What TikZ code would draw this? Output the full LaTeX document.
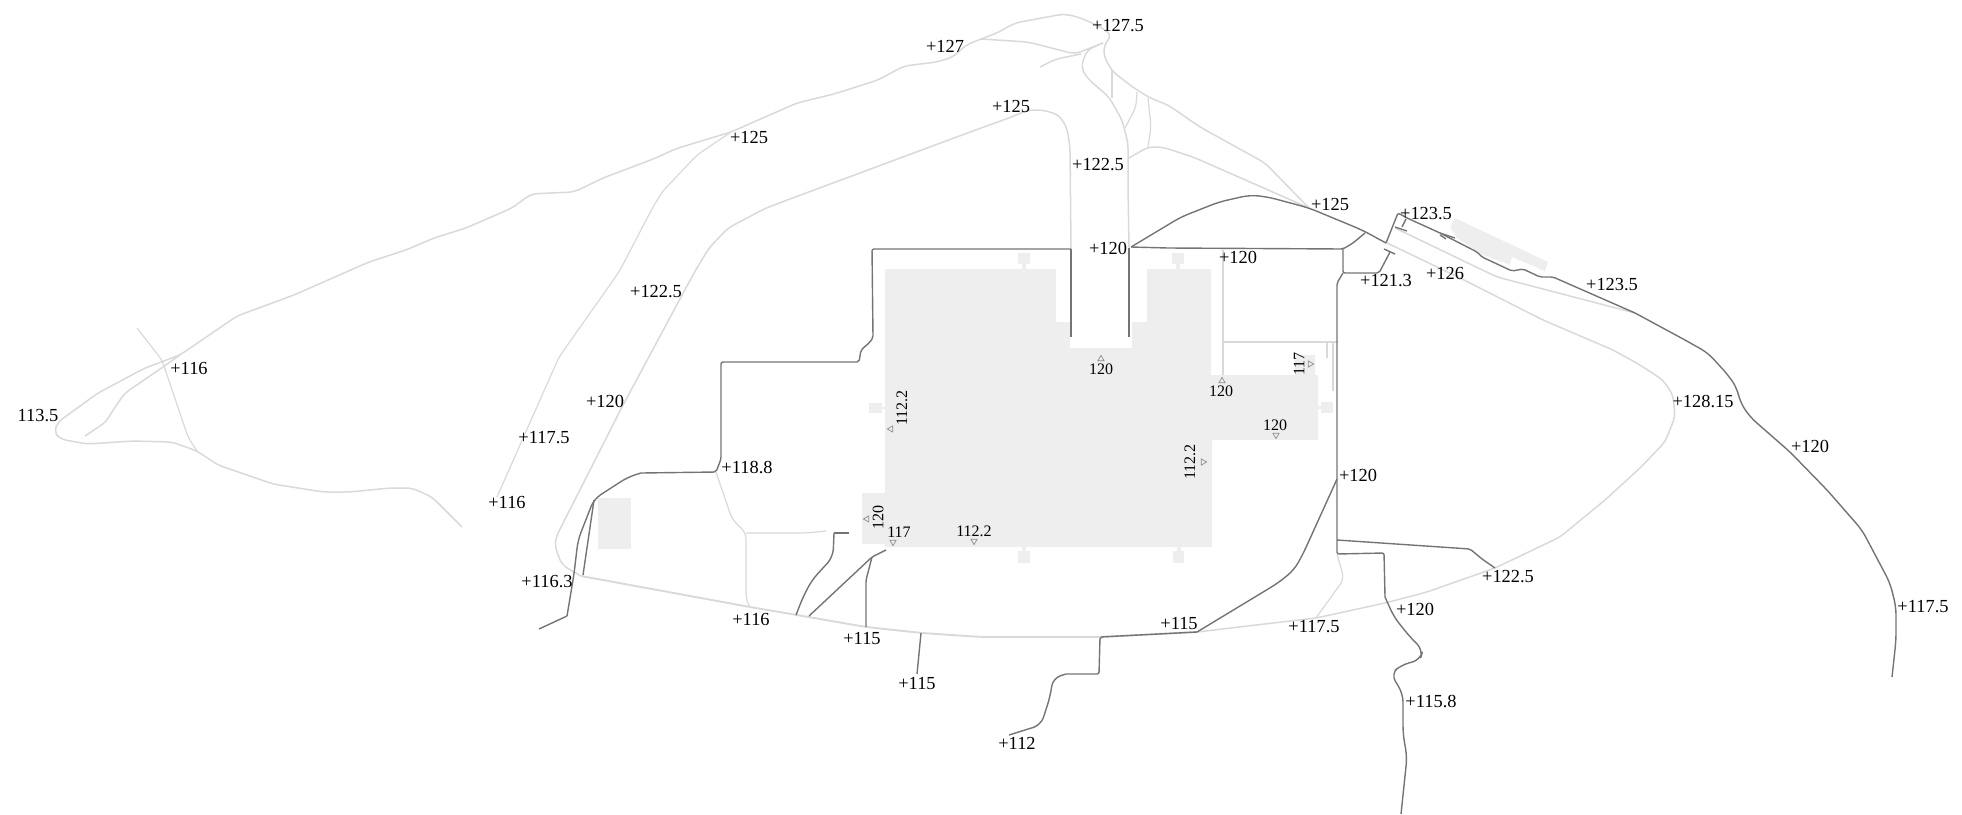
\documentclass[tikz,border=0pt]{standalone}
\usepackage{fontspec}
\setmainfont{Liberation Serif}
\usetikzlibrary{shapes.geometric}
\definecolor{roadlight}{HTML}{D9D9D9}
\definecolor{roaddark}{HTML}{747474}
\definecolor{blockfill}{HTML}{EEEEEE}
\definecolor{marker}{HTML}{8C8C8C}
\tikzset{
  light/.style={draw=roadlight,line width=0.75pt,rounded corners=3pt,line join=round},
  thinlight/.style={draw=roadlight,line width=0.6pt,rounded corners=3pt,line join=round},
  heavylight/.style={draw=roadlight,line width=0.95pt,rounded corners=5pt,line join=round},
  dark/.style={draw=roaddark,line width=0.7pt,rounded corners=1pt,line join=round},
  curvy/.style={draw=roaddark,line width=0.7pt,rounded corners=4pt,line join=round},
  block/.style={fill=blockfill,draw=none},
  lbl/.style={font=\fontsize{9.2}{11}\selectfont,inner sep=0pt,text=black},
  inlbl/.style={font=\fontsize{8}{10}\selectfont,inner sep=0pt,text=black},
  tri/.style={regular polygon,regular polygon sides=3,draw=marker,line width=0.35pt,inner sep=0pt,minimum size=3.6pt,fill=none},
}
\begin{document}
\begin{tikzpicture}[x=0.5pt,y=-0.5pt]
\useasboundingbox (0,0) rectangle (1962,814);
% grey building blocks
\fill[block] (885,269) -- (1056,269) -- (1056,322) -- (1070,322) -- (1070,348) -- (1132,348) -- (1132,322) -- (1147,322) -- (1147,269) -- (1211,269) -- (1211,375) -- (1295,375) -- (1295,355) -- (1315,355) -- (1315,375) -- (1318,375) -- (1318,440) -- (1212,440) -- (1212,547) -- (885,547) -- (885,544) -- (862,544) -- (862,493) -- (885,493) -- cycle;
\fill[block] (598,498) rectangle (631,549);
\fill[block] (1455,218) -- (1548,262) -- (1545,271) -- (1512,257) -- (1510,265) -- (1483,255) -- (1457,238) -- (1450,227) -- cycle;
\fill[block] (869,403) rectangle (882,413);
\fill[block] (882,407) rectangle (885,409);
\fill[block] (1321,402) rectangle (1333,413);
\fill[block] (1318,406) rectangle (1321,409);
\fill[block] (1018,551) rectangle (1030,563);
\fill[block] (1022,547) rectangle (1026,551);
\fill[block] (1173,551) rectangle (1184,563);
\fill[block] (1177,547) rectangle (1181,551);
\fill[block] (1018,253) rectangle (1030,264);
\fill[block] (1022,264) rectangle (1026,269);
\fill[block] (1172,253) rectangle (1184,264);
\fill[block] (1176,264) rectangle (1180,269);
% light roads: far left and north
\path[light] (462,527) -- (432,497) -- (412,488) -- (390,488) -- (350,492) -- (323,492) -- (273,484) -- (218,465) -- (197,451) -- (172,442) -- (133,441) -- (87,444) -- (60,439) -- (54,432) -- (58,422) -- (98,393) -- (145,368) -- (180,355) -- (237,316) -- (294,295) -- (369,262) -- (406,250) -- (434,238) -- (466,228) -- (512,208) -- (531,194) -- (550,193) -- (574,192) -- (603,178) -- (656,158) -- (675,149) -- (731,132) -- (797,103) -- (834,94) -- (878,80) -- (904,66) -- (937,62) -- (953,57) -- (966,45) -- (981,39) -- (997,33) -- (1015,23) -- (1047,17) -- (1064,14) -- (1078,17) -- (1097,25) -- (1112,35) -- (1104,45) -- (1104,57) -- (1113,72) -- (1134,88) -- (1150,98) -- (1168,105) -- (1200,127) -- (1265,163) -- (1309,208);
\path[light] (180,355) -- (163,367) -- (125,393) -- (113,410) -- (106,422) -- (85,436);
\path[thinlight] (137,328) -- (162,360) -- (188,437) -- (197,451);
\path[thinlight] (497,497) -- (559,357) -- (619,272) -- (653,207) -- (662,192) -- (697,155) -- (731,132);
\path[light] (581,576) -- (562,565) -- (555,547) -- (556,537) -- (622,407) -- (681,297) -- (694,273) -- (709,248) -- (728,228) -- (766,208) -- (806,193) -- (981,128) -- (1009,118) -- (1028,110) -- (1043,110) -- (1059,115) -- (1067,128) -- (1070,147) -- (1071,249);
\path[light] (981,39) -- (1028,42) -- (1075,54) -- (1103,43);
\path[light] (1040,67) -- (1056,59) -- (1081,54);
\path[light] (1103,43) -- (1087,50) -- (1081,67) -- (1087,78) -- (1109,97) -- (1122,120) -- (1128,143) -- (1128,187) -- (1129,248);
\path[thinlight] (1112,70) -- (1112,98);
\path[thinlight] (1137,92) -- (1136,107) -- (1125,128);
\path[thinlight] (1148,98) -- (1151,127) -- (1148,147);
\path[light] (1129,158) -- (1148,147) -- (1162,147) -- (1193,157) -- (1250,182) -- (1309,208);
% light roads: east and south
\path[light] (1395,228) -- (1497,277) -- (1635,313);
\path[light] (1387,243) -- (1460,278) -- (1543,320) -- (1613,350) -- (1640,365) -- (1663,380) -- (1673,395) -- (1675,417) -- (1665,442) -- (1640,468) -- (1605,500) -- (1560,537) -- (1495,568) -- (1427,592) -- (1385,603) -- (1316,618) -- (1256,625) -- (1197,632);
\path[heavylight] (1197,632) -- (1100,637) -- (981,637) -- (922,633) -- (866,627) -- (797,615) -- (750,607) -- (581,576);
\path[thinlight] (1337,554) -- (1344,579) -- (1316,618);
\path[thinlight] (1223,250) -- (1223,375);
\path[thinlight] (1223,342) -- (1338,342);
\path[thinlight] (1327,343) -- (1327,358);
\path[thinlight] (1333,343) -- (1333,391);
\path[thinlight] (716,472) -- (732,519) -- (746,533) -- (746,600) -- (750,607);
\path[thinlight] (746,533) -- (806,533) -- (826,531);
% dark roads
\path[dark] (1071,249) -- (872,249) -- (873,338) -- (869,343) -- (861,350) -- (859,362) -- (822,362) -- (721,362) -- (721,459) -- (716,472) -- (641,473);
\path[curvy] (641,473) -- (628,477) -- (594,499) -- (578,540) -- (574,574) -- (567,616);
\path[dark] (567,616) -- (539,629);
\path[dark] (594,500) -- (583,575);
\path[dark] (1071,249) -- (1071,337);
\path[dark] (1129,248) -- (1129,337);
\path[curvy] (1131,247) -- (1181,217) -- (1219,202) -- (1250,195) -- (1268,197) -- (1309,208) -- (1362,230) -- (1386,243);
\path[dark] (1386,243) -- (1398,213) -- (1407,218) -- (1440,233) -- (1477,252) -- (1482,257) -- (1512,271) -- (1523,269) -- (1540,277) -- (1553,277) -- (1635,313);
\path[curvy] (1635,313) -- (1685,340) -- (1708,353) -- (1728,375) -- (1737,388) -- (1740,402) -- (1750,417) -- (1790,452) -- (1827,490) -- (1862,530) -- (1890,583) -- (1896,607) -- (1896,640) -- (1892,677);
\path[dark] (1131,247) -- (1168,248) -- (1343,249) -- (1353,243) -- (1365,233);
\path[dark] (1343,249) -- (1343,273) -- (1379,273) -- (1390,252);
\path[dark] (1384,249) -- (1395,254);
\path[dark] (1406,219) -- (1402,227);
\path[dark] (1395,227) -- (1407,231);
\path[dark] (1440,233) -- (1455,238);
\path[dark] (1440,235) -- (1446,239);
\path[dark] (1343,273) -- (1337,283) -- (1337,554) -- (1384,553) -- (1385,597);
\path[curvy] (1385,597) -- (1394,617) -- (1410,637) -- (1423,650) -- (1420,660) -- (1401,665) -- (1391,674) -- (1403,694) -- (1403,734) -- (1407,757) -- (1401,814);
\path[dark] (1337,540) -- (1470,549) -- (1482,559) -- (1495,568);
\path[curvy] (1337,479) -- (1303,554) -- (1294,570) -- (1278,583) -- (1197,632);
\path[dark] (1197,632) -- (1100,637) -- (1099,674) -- (1066,674);
\path[curvy] (1066,674) -- (1053,678) -- (1050,697) -- (1041,725) -- (1009,735);
\path[dark] (834,533) -- (849,533);
\path[curvy] (834,533) -- (833,557) -- (812,580) -- (803,597) -- (796,615);
\path[dark] (886,550) -- (872,557) -- (809,616);
\path[dark] (872,557) -- (866,580) -- (866,627);
\path[dark] (921,633) -- (917,674);
% outer level labels
\node[lbl] (a01) at (1118,26) {+127.5};
\node[lbl] (a02) at (945,46) {+127};
\node[lbl] (a03) at (749,137) {+125};
\node[lbl] (a04) at (1011,106) {+125};
\node[lbl] (a05) at (1098,165) {+122.5};
\node[lbl] (a06) at (1108,248) {+120};
\node[lbl] (a07) at (1330,204) {+125};
\node[lbl] (a08) at (1426,214) {+123.5};
\node[lbl] (a09) at (1238,257) {+120};
\node[lbl] (a10) at (1445,273) {+126};
\node[lbl] (a11) at (1386,281) {+121.3};
\node[lbl] (a12) at (1612,285) {+123.5};
\node[lbl] (a13) at (1703,402) {+128.15};
\node[lbl] (a14) at (656,292) {+122.5};
\node[lbl] (a15) at (189,368) {+116};
\node[lbl] (a16) at (605,401) {+120};
\node[lbl] (a17) at (38,416) {113.5};
\node[lbl] (a18) at (544,438) {+117.5};
\node[lbl] (a19) at (507,502) {+116};
\node[lbl] (a20) at (747,468) {+118.8};
\node[lbl] (a21) at (547,582) {+116.3};
\node[lbl] (a22) at (751,619) {+116};
\node[lbl] (a23) at (862,639) {+115};
\node[lbl] (a24) at (917,684) {+115};
\node[lbl] (a25) at (1179,624) {+115};
\node[lbl] (a26) at (1314,627) {+117.5};
\node[lbl] (a27) at (1415,609) {+120};
\node[lbl] (a28) at (1358,475) {+120};
\node[lbl] (a29) at (1508,577) {+122.5};
\node[lbl] (a30) at (1431,701) {+115.8};
\node[lbl] (a31) at (1017,743) {+112};
\node[lbl] (a32) at (1810,446) {+120};
\node[lbl] (a33) at (1923,607) {+117.5};
% floor levels and their markers
\node[inlbl] (b01) at (1101,369) {120};
\node[tri] (t01) at (1101,359) {};
\node[inlbl] (b02) at (1221,391) {120};
\node[tri] (t02) at (1222,381) {};
\node[inlbl,rotate=90] (b03) at (1299,364) {117};
\node[tri,rotate=-90] (t03) at (1310,364) {};
\node[inlbl] (b04) at (1275,425) {120};
\node[tri,rotate=180] (t04) at (1276,435) {};
\node[inlbl,rotate=90] (b05) at (1190,462) {112.2};
\node[tri,rotate=-90] (t05) at (1203,462) {};
\node[inlbl,rotate=90] (b06) at (902,408) {112.2};
\node[tri,rotate=90] (t06) at (891,429) {};
\node[inlbl,rotate=90] (b07) at (878,517) {120};
\node[tri,rotate=90] (t07) at (867,519) {};
\node[inlbl] (b08) at (899,532) {117};
\node[tri,rotate=180] (t08) at (893,542) {};
\node[inlbl] (b09) at (974,531) {112.2};
\node[tri,rotate=180] (t09) at (974,541) {};
\end{tikzpicture}
\end{document}
